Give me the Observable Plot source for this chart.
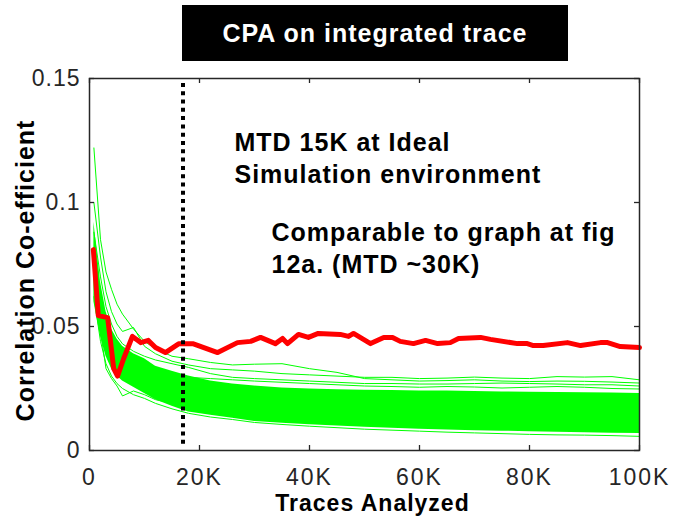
<!DOCTYPE html>
<html><head><meta charset="utf-8">
<script src="https://cdn.jsdelivr.net/npm/d3@7"></script>
<script src="https://cdn.jsdelivr.net/npm/@observablehq/plot@0.6"></script>
<style>
body{margin:0;background:#fff;font-family:"Liberation Sans",Arial,sans-serif;}
#wrap{width:683px;height:516px;overflow:hidden;position:relative;background:#fff}
#title{height:66px;position:relative}
#title div{position:absolute;left:182px;top:5px;width:386px;height:56px;background:#000;color:#fff;font-weight:bold;font-size:25px;letter-spacing:1px;line-height:56px;text-align:center;white-space:nowrap}
svg text{letter-spacing:1px}
svg g[aria-label="x-axis tick label"] text{letter-spacing:2px}
svg g[aria-label="y-axis tick label"] text{letter-spacing:1px}
</style>
</head><body>
<div id="wrap"><div id="title"><div>CPA on integrated trace</div></div><div id="chart"></div></div>
<script>
// ---- data ----
const titleText = "CPA on integrated trace";
const xLabel = "Traces Analyzed";
const yLabel = "Correlation Co-efficient";
const note1 = "MTD 15K at Ideal\nSimulation environment";
const note2 = "Comparable to graph at fig\n12a. (MTD ~30K)";
const xTicks = [0, 20000, 40000, 60000, 80000, 100000];
const yTicks = [0, 0.05, 0.1, 0.15];
const mtdTrace = 17000;

// red (correct key) trace
const redTraces = [700,1600,3300,4400,5100,6200,7800,9300,10700,12000,13800,16200,18900,23300,26900,29300,31100,33800,35100,36000,38000,39800,41600,45600,47100,48000,51100,53500,55100,56500,58900,61100,63300,65600,67100,71100,72900,77800,79600,80700,82500,86900,89300,92900,94200,96500,100000];
const redCorr = [0.081,0.0544,0.0536,0.033,0.030,0.037,0.046,0.0435,0.0444,0.0415,0.0395,0.043,0.043,0.0395,0.0435,0.044,0.0456,0.0431,0.0452,0.0431,0.0468,0.0456,0.0472,0.0468,0.046,0.0472,0.0431,0.0456,0.0456,0.044,0.0431,0.0444,0.0431,0.0435,0.0452,0.0456,0.0448,0.0431,0.0431,0.0423,0.0423,0.0435,0.0423,0.0435,0.0435,0.0419,0.0415];

// green (wrong key guesses): dense band + individual traces
const greenTraces = [800,2000,3000,4000,5000,6000,8000,10000,12000,15000,18000,22000,26000,30000,35000,40000,45000,50000,55000,60000,65000,70000,75000,80000,85000,90000,95000,100000];
const bandLow  = [0.060,0.046,0.038,0.033,0.030,0.028,0.0255,0.023,0.0205,0.0178,0.0155,0.0142,0.013,0.0117,0.011,0.0104,0.0099,0.0094,0.009,0.0086,0.0083,0.008,0.0078,0.0076,0.0074,0.0072,0.007,0.0069];
const bandHigh = [0.092,0.068,0.056,0.049,0.045,0.042,0.039,0.037,0.034,0.032,0.030,0.028,0.0268,0.026,0.0252,0.0248,0.0245,0.0243,0.0242,0.024,0.024,0.0238,0.0236,0.0235,0.0234,0.0233,0.0232,0.023];
const green1 = [0.122,0.085,0.072,0.065,0.059,0.055,0.049,0.044,0.041,0.038,0.037,0.0355,0.0345,0.0348,0.035,0.033,0.0315,0.029,0.0285,0.028,0.0282,0.0285,0.028,0.0278,0.028,0.0279,0.0276,0.0272];
const green2 = [0.100,0.078,0.064,0.056,0.051,0.048,0.0496,0.042,0.039,0.036,0.0345,0.033,0.0325,0.032,0.031,0.0305,0.030,0.0295,0.0295,0.029,0.0292,0.0296,0.0292,0.029,0.0298,0.0296,0.0298,0.0285];
const green3 = [0.088,0.070,0.058,0.051,0.046,0.043,0.040,0.038,0.0365,0.035,0.0335,0.031,0.0295,0.029,0.0285,0.028,0.0275,0.027,0.027,0.0268,0.0268,0.027,0.0272,0.027,0.0268,0.0265,0.0265,0.026];
const green4 = [0.062,0.044,0.035,0.030,0.027,0.025,0.0225,0.021,0.019,0.0168,0.015,0.0135,0.0125,0.0113,0.0105,0.0098,0.0092,0.0086,0.0082,0.0078,0.0074,0.0071,0.0068,0.0065,0.0063,0.0062,0.006,0.0057];
const green5 = [0.070,0.048,0.033,0.029,0.026,0.022,0.024,0.0225,0.0205,0.019,0.0175,0.016,0.0148,0.0138,0.0128,0.012,0.0115,0.0108,0.0102,0.0098,0.0094,0.0091,0.0088,0.0086,0.0084,0.0082,0.008,0.0078];
const green6 = [0.080,0.060,0.050,0.044,0.040,0.038,0.036,0.034,0.0325,0.031,0.0295,0.029,0.0285,0.028,0.0275,0.027,0.0265,0.026,0.0258,0.0255,0.0258,0.0256,0.0252,0.0255,0.0258,0.0255,0.025,0.0248];

// ---- tables built from the arrays ----
const band = greenTraces.map((t, i) => ({t, lo: bandLow[i], hi: bandHigh[i]}));
const greenRows = [green1, green2, green3, green4, green5, green6]
  .flatMap((s, k) => s.map((v, i) => ({id: k, t: greenTraces[i], v})));
const redRows = redTraces.map((t, i) => ({t, v: redCorr[i]}));
const fmtX = d => d === 0 ? "0" : (d / 1000) + "K";
const fmtY = d => d === 0 ? "0" : String(d);
const ink = "#262626";
const font = "'Liberation Sans', Arial, Helvetica, sans-serif";
const plotH = 450 - 12 - 66, plotW = 683 - 89 - 44;

const chart = Plot.plot({
  width: 683, height: 450,
  marginTop: 12, marginBottom: 66, marginLeft: 89, marginRight: 44,
  style: {fontFamily: font, fontSize: "23px", color: ink, background: "#fff", overflow: "visible"},
  x: {domain: [0, 100000]},
  y: {domain: [0, 0.15]},
  marks: [
    Plot.areaY(band, {x: "t", y1: "lo", y2: "hi", fill: "#00ff00", curve: "linear"}),
    Plot.line(greenRows, {x: "t", y: "v", z: "id", stroke: "#00ff00", strokeWidth: 1}),
    Plot.line(redRows, {x: "t", y: "v", stroke: "#ff0000", strokeWidth: 5, strokeLinejoin: "round"}),
    Plot.ruleX([mtdTrace], {x: d => d, y1: 0.0025, y2: 0.15, stroke: "#000", strokeWidth: 4, strokeDasharray: "4,4.3"}),
    Plot.frame({stroke: ink, strokeWidth: 1.5}),
    Plot.tickX(xTicks, {x: d => d, insetTop: plotH - 5, stroke: ink, strokeWidth: 1.3}),
    Plot.tickX(xTicks, {x: d => d, insetBottom: plotH - 5, stroke: ink, strokeWidth: 1.3}),
    Plot.tickY(yTicks, {y: d => d, insetRight: plotW - 5, stroke: ink, strokeWidth: 1.3}),
    Plot.tickY(yTicks, {y: d => d, insetLeft: plotW - 5, stroke: ink, strokeWidth: 1.3}),
    Plot.axisX({ticks: xTicks, tickFormat: fmtX, tickSize: 0, tickPadding: 18, label: null, fontSize: 23, fill: ink}),
    Plot.axisY({ticks: yTicks, tickFormat: fmtY, tickSize: 0, tickPadding: 9, label: null, fontSize: 23, fill: ink}),
    Plot.text([xLabel], {text: d => d, frameAnchor: "bottom", lineAnchor: "middle", textAnchor: "middle", dx: 8, dy: 53.5, fontSize: 23, fontWeight: "bold", fill: "#000"}),
    Plot.text([yLabel], {text: d => d, frameAnchor: "left", textAnchor: "middle", lineAnchor: "middle", rotate: -90, dx: -64, dy: 6, fontSize: 25, fontWeight: "bold", fill: "#000"}),
    Plot.text([note1], {text: d => d, frameAnchor: "top-left", textAnchor: "start", lineAnchor: "top", lineHeight: 1.3, dx: 145, dy: 49, fontSize: 25, fontWeight: "bold", fill: "#000"}),
    Plot.text([note2], {text: d => d, frameAnchor: "top-left", textAnchor: "start", lineAnchor: "top", lineHeight: 1.3, dx: 182, dy: 139, fontSize: 25, fontWeight: "bold", fill: "#000"})
  ]
});
document.getElementById("chart").appendChild(chart);
</script>
</body></html>
